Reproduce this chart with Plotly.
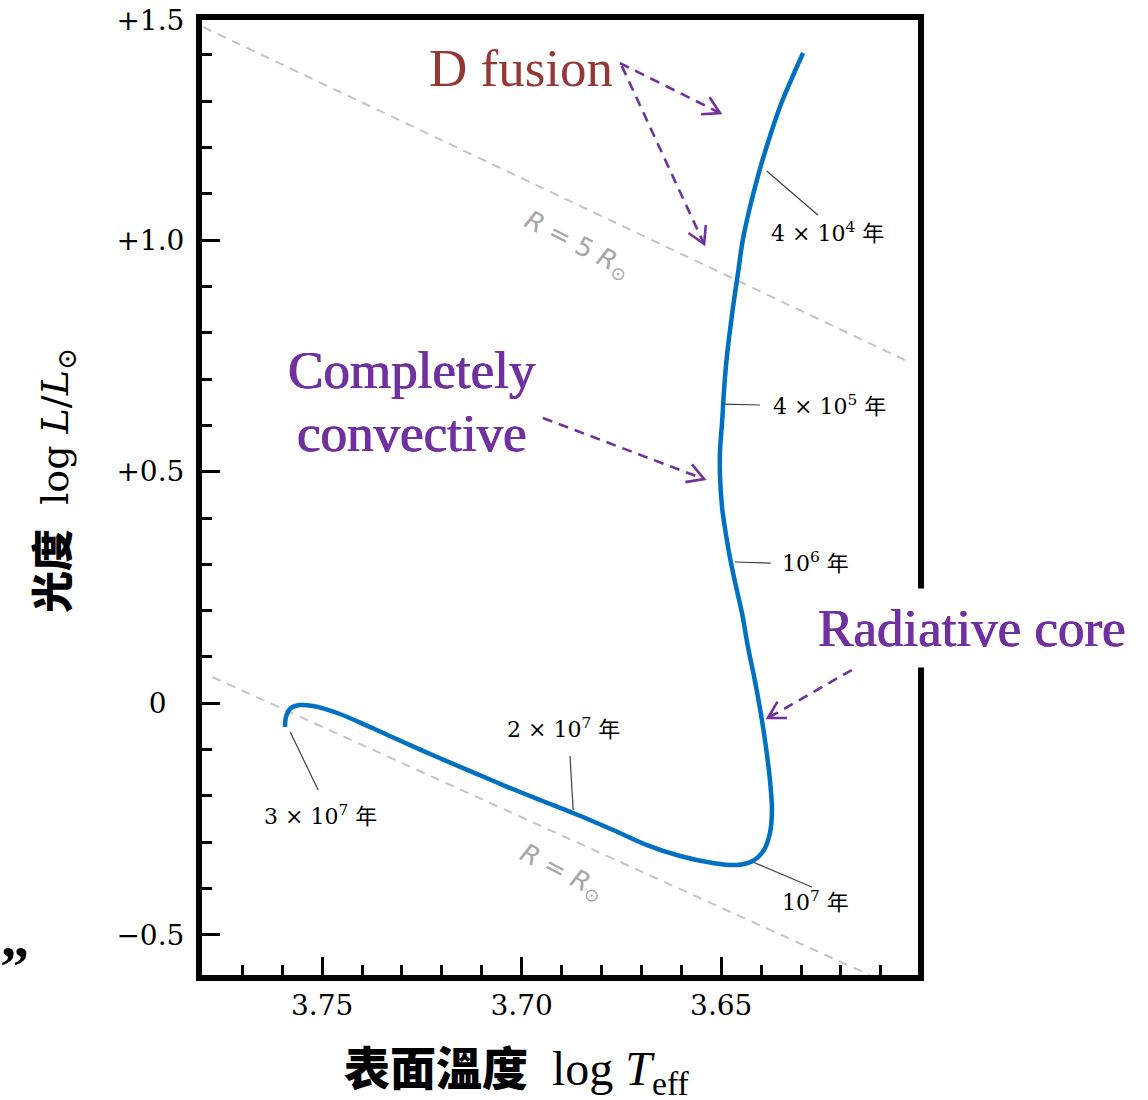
import math
import plotly.graph_objects as go

# ---------------- data ----------------
track_logT = [3.6295, 3.6325, 3.6353, 3.6381, 3.6406, 3.6428, 3.6446, 3.6458, 3.6468, 3.6478,
              3.6486, 3.6493, 3.6498, 3.6503, 3.6503, 3.6498, 3.6488, 3.6476, 3.6461, 3.6448,
              3.6433, 3.6416, 3.6401, 3.6388, 3.6378, 3.6373, 3.6378, 3.6393, 3.6421, 3.6461,
              3.6521, 3.6603, 3.6686, 3.6771, 3.6871, 3.6954, 3.7047, 3.7129, 3.7212, 3.7297,
              3.7380, 3.7462, 3.7523, 3.7555, 3.7578, 3.7590, 3.7593]
track_logL = [1.4036, 1.3453, 1.2871, 1.2158, 1.1446, 1.0712, 1.0000, 0.9288, 0.8705, 0.8057,
              0.7475, 0.6762, 0.6050, 0.5467, 0.4885, 0.4237, 0.3633, 0.3050, 0.2446, 0.1949,
              0.1215, 0.0503, -0.0209, -0.0943, -0.1656, -0.2303, -0.2800, -0.3166, -0.3404, -0.3490,
              -0.3447, -0.3296, -0.3059, -0.2735, -0.2368, -0.2087, -0.1764, -0.1462, -0.1159, -0.0835,
              -0.0512, -0.0209, -0.0058, -0.0037, -0.0101, -0.0274, -0.0512]

r5_logT = [3.7798, 3.6040]
r5_logL = [1.4597, 0.7410]
r1_logT = [3.7775, 3.6128]
r1_logL = [0.0568, -0.5865]

age_labels = ["4 × 10<sup>4</sup> 年", "4 × 10<sup>5</sup> 年", "10<sup>6</sup> 年",
              "2 × 10<sup>7</sup> 年", "10<sup>7</sup> 年", "3 × 10<sup>7</sup> 年"]
age_on_track_T = [3.6386, 3.6496, 3.6466, 3.6871, 3.6421, 3.7580]
age_on_track_L = [1.1489, 0.6460, 0.3050, -0.2303, -0.3425, -0.0619]

y_tickvals = [-0.5, 0.0, 0.5, 1.0, 1.4749]
y_ticktext = ["\u22120.5", "0\u2007", "+0.5", "+1.0", "+1.5"]
x_tickvals = [3.75, 3.70, 3.65, 3.60]
x_ticktext = ["3.75", "3.70", "3.65", "3.60"]

# ---------------- layout geometry ----------------
W, H = 1148, 1100
ML, MT, PW, PH = 202, 20, 716, 955
MR = W - ML - PW
MB = H - MT - PH
XR = [3.7801, 3.6007]
YR = [-0.5864, 1.4749]

def to_px(x, y):
    return (ML + (x - XR[0]) / (XR[1] - XR[0]) * PW,
            MT + (YR[1] - y) / (YR[1] - YR[0]) * PH)

def to_data(px, py):
    return (XR[0] + (px - ML) / PW * (XR[1] - XR[0]),
            YR[1] - (py - MT) / PH * (YR[1] - YR[0]))

def paper(px, py):
    return ((px - ML) / PW, (MT + PH - py) / PH)

PURPLE = "#7030A0"
SERIF = "DejaVu Serif"
TIMES = "Liberation Serif"
CJK = "Noto Sans CJK TC"
SEMIBOLD = "0.7px 0px 0px #7030A0, -0.4px 0px 0px #7030A0"

fig = go.Figure()

for xs, ys in ((r5_logT, r5_logL), (r1_logT, r1_logL)):
    fig.add_trace(go.Scatter(x=xs, y=ys, mode="lines",
                             line=dict(color="#c4c4c4", width=2, dash="9px,7px"),
                             hoverinfo="skip", showlegend=False))

fig.add_trace(go.Scatter(x=track_logT, y=track_logL, mode="lines",
                         line=dict(color="#0070C0", width=4.5, shape="spline", smoothing=1.0),
                         hoverinfo="skip", showlegend=False))

shapes = []
annotations = []

# leader lines + age labels
leader_ends = [(3.6258, 1.0540), (3.6403, 0.6439), (3.6376, 0.3028),
               (3.6879, -0.1138), (3.6273, -0.3965), (3.7510, -0.1871)]
label_pos = [(3.6233, 1.0173), (3.6228, 0.6439), (3.6263, 0.3050),
             (3.6896, -0.0533), (3.6263, -0.4267), (3.7505, -0.2410)]
for txt, x0, y0, (x1, y1), (tx, ty) in zip(age_labels, age_on_track_T, age_on_track_L,
                                           leader_ends, label_pos):
    shapes.append(dict(type="line", xref="x", yref="y", x0=x0, y0=y0, x1=x1, y1=y1,
                       line=dict(color="#404040", width=1.2), layer="above"))
    annotations.append(dict(x=tx, y=ty, xref="x", yref="y", text=txt, showarrow=False,
                            font=dict(family=SERIF + ", " + CJK, size=22, color="black"),
                            xanchor="center", yanchor="middle"))

# dashed purple arrows
arrows = [((3.6754, 1.3820), (3.6503, 1.2741)),
          ((3.6749, 1.3756), (3.6543, 0.9914)),
          ((3.6947, 0.6158), (3.6543, 0.4841)),
          ((3.6173, 0.0719), (3.6383, -0.0317))]
for (xa, ya), (xb, yb) in arrows:
    shapes.append(dict(type="line", xref="x", yref="y", x0=xa, y0=ya, x1=xb, y1=yb,
                       line=dict(color=PURPLE, width=2.6, dash="10px,7px"), layer="above"))
    pa = to_px(xa, ya)
    pb = to_px(xb, yb)
    dx, dy = pb[0] - pa[0], pb[1] - pa[1]
    n = math.hypot(dx, dy)
    ux, uy = dx / n, dy / n
    L, th = 19, math.radians(30)
    pts = []
    for s in (1, -1):
        c, sn = math.cos(s * th), math.sin(s * th)
        rx, ry = ux * c - uy * sn, ux * sn + uy * c
        pts.append(to_data(pb[0] - L * rx, pb[1] - L * ry))
    path = "M {},{} L {},{} L {},{}".format(pts[0][0], pts[0][1], xb, yb, pts[1][0], pts[1][1])
    shapes.append(dict(type="path", xref="x", yref="y", path=path,
                       line=dict(color=PURPLE, width=2.6), layer="above"))

# big labels
annotations.append(dict(x=3.7002, y=1.3713, xref="x", yref="y", text="D fusion",
                        showarrow=False, font=dict(family=TIMES, size=53, color="#953735"),
                        xanchor="center", yanchor="middle"))
for word, yv in (("Completely", 0.7194), ("convective", 0.5834)):
    annotations.append(dict(x=3.7275, y=yv, xref="x", yref="y", text=word,
                            showarrow=False,
                            font=dict(family=TIMES, size=53, color=PURPLE, shadow=SEMIBOLD),
                            xanchor="center", yanchor="middle"))
rx_, ry_ = paper(972, 628)
annotations.append(dict(x=rx_, y=ry_, xref="paper", yref="paper", text="Radiative core",
                        showarrow=False,
                        font=dict(family=TIMES, size=53, color=PURPLE, shadow=SEMIBOLD),
                        xanchor="center", yanchor="middle", bgcolor="white", borderpad=10))
annotations.append(dict(x=3.6859, y=0.9892, xref="x", yref="y",
                        text="<i>R</i> = 5 <i>R</i><sub>⊙</sub>", textangle=27,
                        showarrow=False, font=dict(family="DejaVu Sans", size=26, color="#a6a6a6"),
                        xanchor="center", yanchor="middle"))
annotations.append(dict(x=3.6899, y=-0.3641, xref="x", yref="y",
                        text="<i>R</i> = <i>R</i><sub>⊙</sub>", textangle=27,
                        showarrow=False, font=dict(family="DejaVu Sans", size=26, color="#a6a6a6"),
                        xanchor="center", yanchor="middle"))

# axis titles
tx_, ty_ = paper(517, 1067)
annotations.append(dict(x=tx_, y=ty_, xref="paper", yref="paper",
                        text="<span style='font-family:Noto Sans CJK TC;font-weight:900;font-size:46px'>表面溫度</span>"
                             "  log <i>T</i><sub>eff</sub>",
                        showarrow=False, font=dict(family=TIMES, size=48, color="black"),
                        xanchor="center", yanchor="middle"))
yx_, yy_ = paper(50, 481)
annotations.append(dict(x=yx_, y=yy_, xref="paper", yref="paper", textangle=-90,
                        text="<span style='font-family:Noto Sans CJK TC;font-weight:900;font-size:42px'>光度</span>"
                             "  log <i>L</i>/<i>L</i><sub>⊙</sub>",
                        showarrow=False, font=dict(family=SERIF, size=38, color="black"),
                        xanchor="center", yanchor="middle"))

# stray glyph at lower left
gx_, gy_ = paper(14, 966)
annotations.append(dict(x=gx_, y=gy_, xref="paper", yref="paper", text="<b>”</b>", showarrow=False,
                        font=dict(family=TIMES, size=58, color="black"),
                        xanchor="center", yanchor="middle"))

fig.update_layout(
    width=W, height=H,
    margin=dict(l=ML, r=MR, t=MT, b=MB, pad=0),
    paper_bgcolor="white", plot_bgcolor="white",
    shapes=shapes, annotations=annotations,
    xaxis=dict(range=XR, showgrid=False, zeroline=False, automargin=False,
               showline=True, mirror=True, linewidth=6, linecolor="black",
               tickmode="array", tickvals=x_tickvals, ticktext=x_ticktext,
               ticks="inside", ticklen=18, tickwidth=3, tickcolor="black",
               minor=dict(ticks="inside", ticklen=10, tickwidth=2.5, tickcolor="black",
                          tickmode="linear", tick0=3.60, dtick=0.01),
               tickfont=dict(family=SERIF, size=28, color="black")),
    yaxis=dict(range=YR, showgrid=False, zeroline=False, automargin=False,
               showline=True, mirror=True, linewidth=6, linecolor="black",
               tickmode="array", tickvals=y_tickvals, ticktext=y_ticktext,
               ticks="inside", ticklen=18, tickwidth=3, tickcolor="black",
               minor=dict(ticks="inside", ticklen=10, tickwidth=2.5, tickcolor="black",
                          tickmode="linear", tick0=0, dtick=0.1),
               tickfont=dict(family=SERIF, size=28, color="black"),
               ticklabelstandoff=6),
)

fig.write_html("out.html")
